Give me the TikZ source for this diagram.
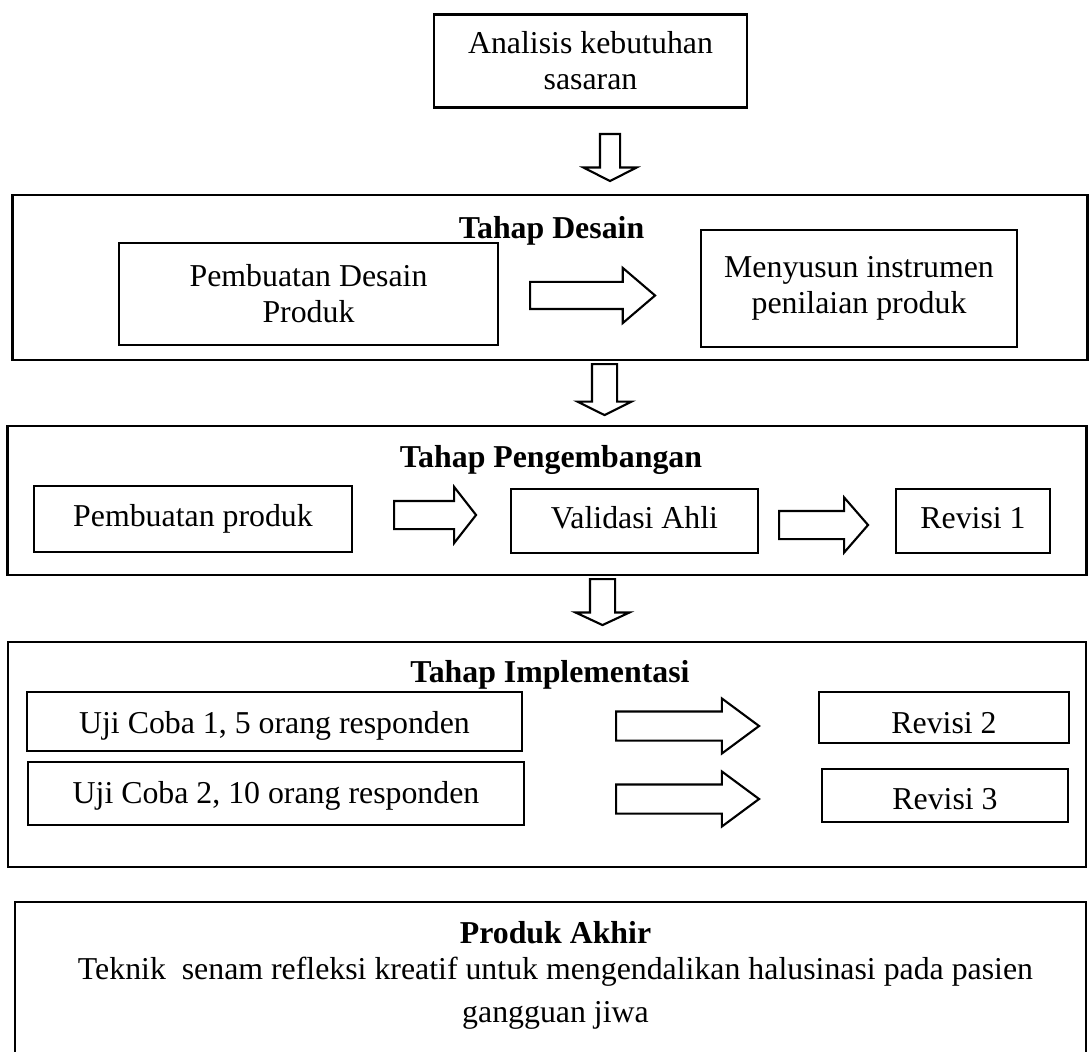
\documentclass[tikz,border=0pt]{standalone}
\usepackage{fontspec}
\setmainfont{Liberation Serif}
\usetikzlibrary{shapes.arrows}

\newcommand{\pxu}{0.377pt}

\begin{document}
\begin{tikzpicture}[x=0.377pt, y=-0.377pt,
    every node/.style={font=\fontsize{12}{13.5}\selectfont, inner sep=0pt},
    box/.style={draw, line width=0.8pt, align=center},
    lift/.style={text height=#1, text depth=0pt},
    stage/.style={draw, line width=0.9pt},
    title/.style={font=\fontsize{12}{13.5}\selectfont\bfseries, anchor=base},
    rblock/.style={single arrow, draw, line width=0.8pt, inner xsep=0pt, minimum width=0pt, anchor=tail},
    dblock/.style={rblock, rotate=-90}]
    \clip (0,0) rectangle (1089,1052);

    \node[stage, minimum width=1075*\pxu, minimum height=165*\pxu] (des) at (550,277.5) {};
    \node[stage, minimum width=1079*\pxu, minimum height=149*\pxu] (pen) at (547,500.5) {};
    \node[stage, minimum width=1078*\pxu, minimum height=225*\pxu] (imp) at (547,754.5) {};
    \node[stage, minimum width=1071*\pxu, minimum height=178*\pxu] (pak) at (550.5,991) {};

    \node[box, minimum width=313*\pxu, minimum height=93*\pxu] (ana) at (590.5,61) {Analisis kebutuhan\\sasaran};
    \node[dblock, inner ysep=9*\pxu, single arrow head extend=6.22pt, minimum height=47*\pxu, single arrow tip angle=126] (d1) at (610,133) {};

    \node[title] (desT) at (551.5,238) {Tahap Desain};
    \node[box, minimum width=379*\pxu, minimum height=102*\pxu] (pd) at (308.5,294) {Pembuatan Desain\\Produk};
    \node[rblock, inner ysep=12.5*\pxu, single arrow head extend=5.28pt, minimum height=125*\pxu, single arrow tip angle=81] (a1) at (529,295.5) {};
    \node[box, minimum width=316*\pxu, minimum height=117*\pxu] (mi) at (859,288.5) {Menyusun instrumen\\penilaian produk};
    \node[dblock, inner ysep=11.5*\pxu, single arrow head extend=5.47pt, minimum height=51*\pxu, single arrow tip angle=127] (d2) at (604.5,363) {};

    \node[title] (penT) at (551,467) {Tahap Pengembangan};
    \node[box, lift=5.3pt, minimum width=318*\pxu, minimum height=66*\pxu] (pp) at (193,519) {Pembuatan produk};
    \node[rblock, inner ysep=13*\pxu, single arrow head extend=5.28pt, minimum height=82*\pxu, single arrow tip angle=104] (a2) at (393,515) {};
    \node[box, lift=6pt, minimum width=247*\pxu, minimum height=64*\pxu] (va) at (634.5,521) {Validasi Ahli};
    \node[rblock, inner ysep=13*\pxu, single arrow head extend=5.09pt, minimum height=89*\pxu, single arrow tip angle=98] (a3) at (778,525) {};
    \node[box, lift=6pt, minimum width=154*\pxu, minimum height=64*\pxu] (r1) at (973,521) {Revisi 1};
    \node[dblock, inner ysep=11.5*\pxu, single arrow head extend=5.47pt, minimum height=46*\pxu, single arrow tip angle=130] (d3) at (602.5,578) {};

    \node[title] (impT) at (550,682) {Tahap Implementasi};
    \node[box, lift=8.7pt, minimum width=495*\pxu, minimum height=59*\pxu] (u1) at (274.5,721.5) {Uji Coba 1, 5 orang responden};
    \node[rblock, inner ysep=13.5*\pxu, single arrow head extend=4.9pt, minimum height=143*\pxu, single arrow tip angle=73] (a4) at (615,726) {};
    \node[box, lift=11.7pt, minimum width=250*\pxu, minimum height=51*\pxu] (r2) at (944,717.5) {Revisi 2};
    \node[box, lift=7.2pt, minimum width=496*\pxu, minimum height=63*\pxu] (u2) at (276,793.5) {Uji Coba 2, 10 orang responden};
    \node[rblock, inner ysep=13.5*\pxu, single arrow head extend=4.9pt, minimum height=143*\pxu, single arrow tip angle=73] (a5) at (615,799) {};
    \node[box, lift=10.9pt, minimum width=246*\pxu, minimum height=53*\pxu] (r3) at (945,795.5) {Revisi 3};

    \node[title] (pakT) at (555.5,943) {Produk Akhir};
    \node[align=center, anchor=north] (pakD) at (555.5,957) {Teknik\ \ senam refleksi kreatif untuk mengendalikan halusinasi pada pasien\\[2.7pt]gangguan jiwa};
\end{tikzpicture}
\end{document}
